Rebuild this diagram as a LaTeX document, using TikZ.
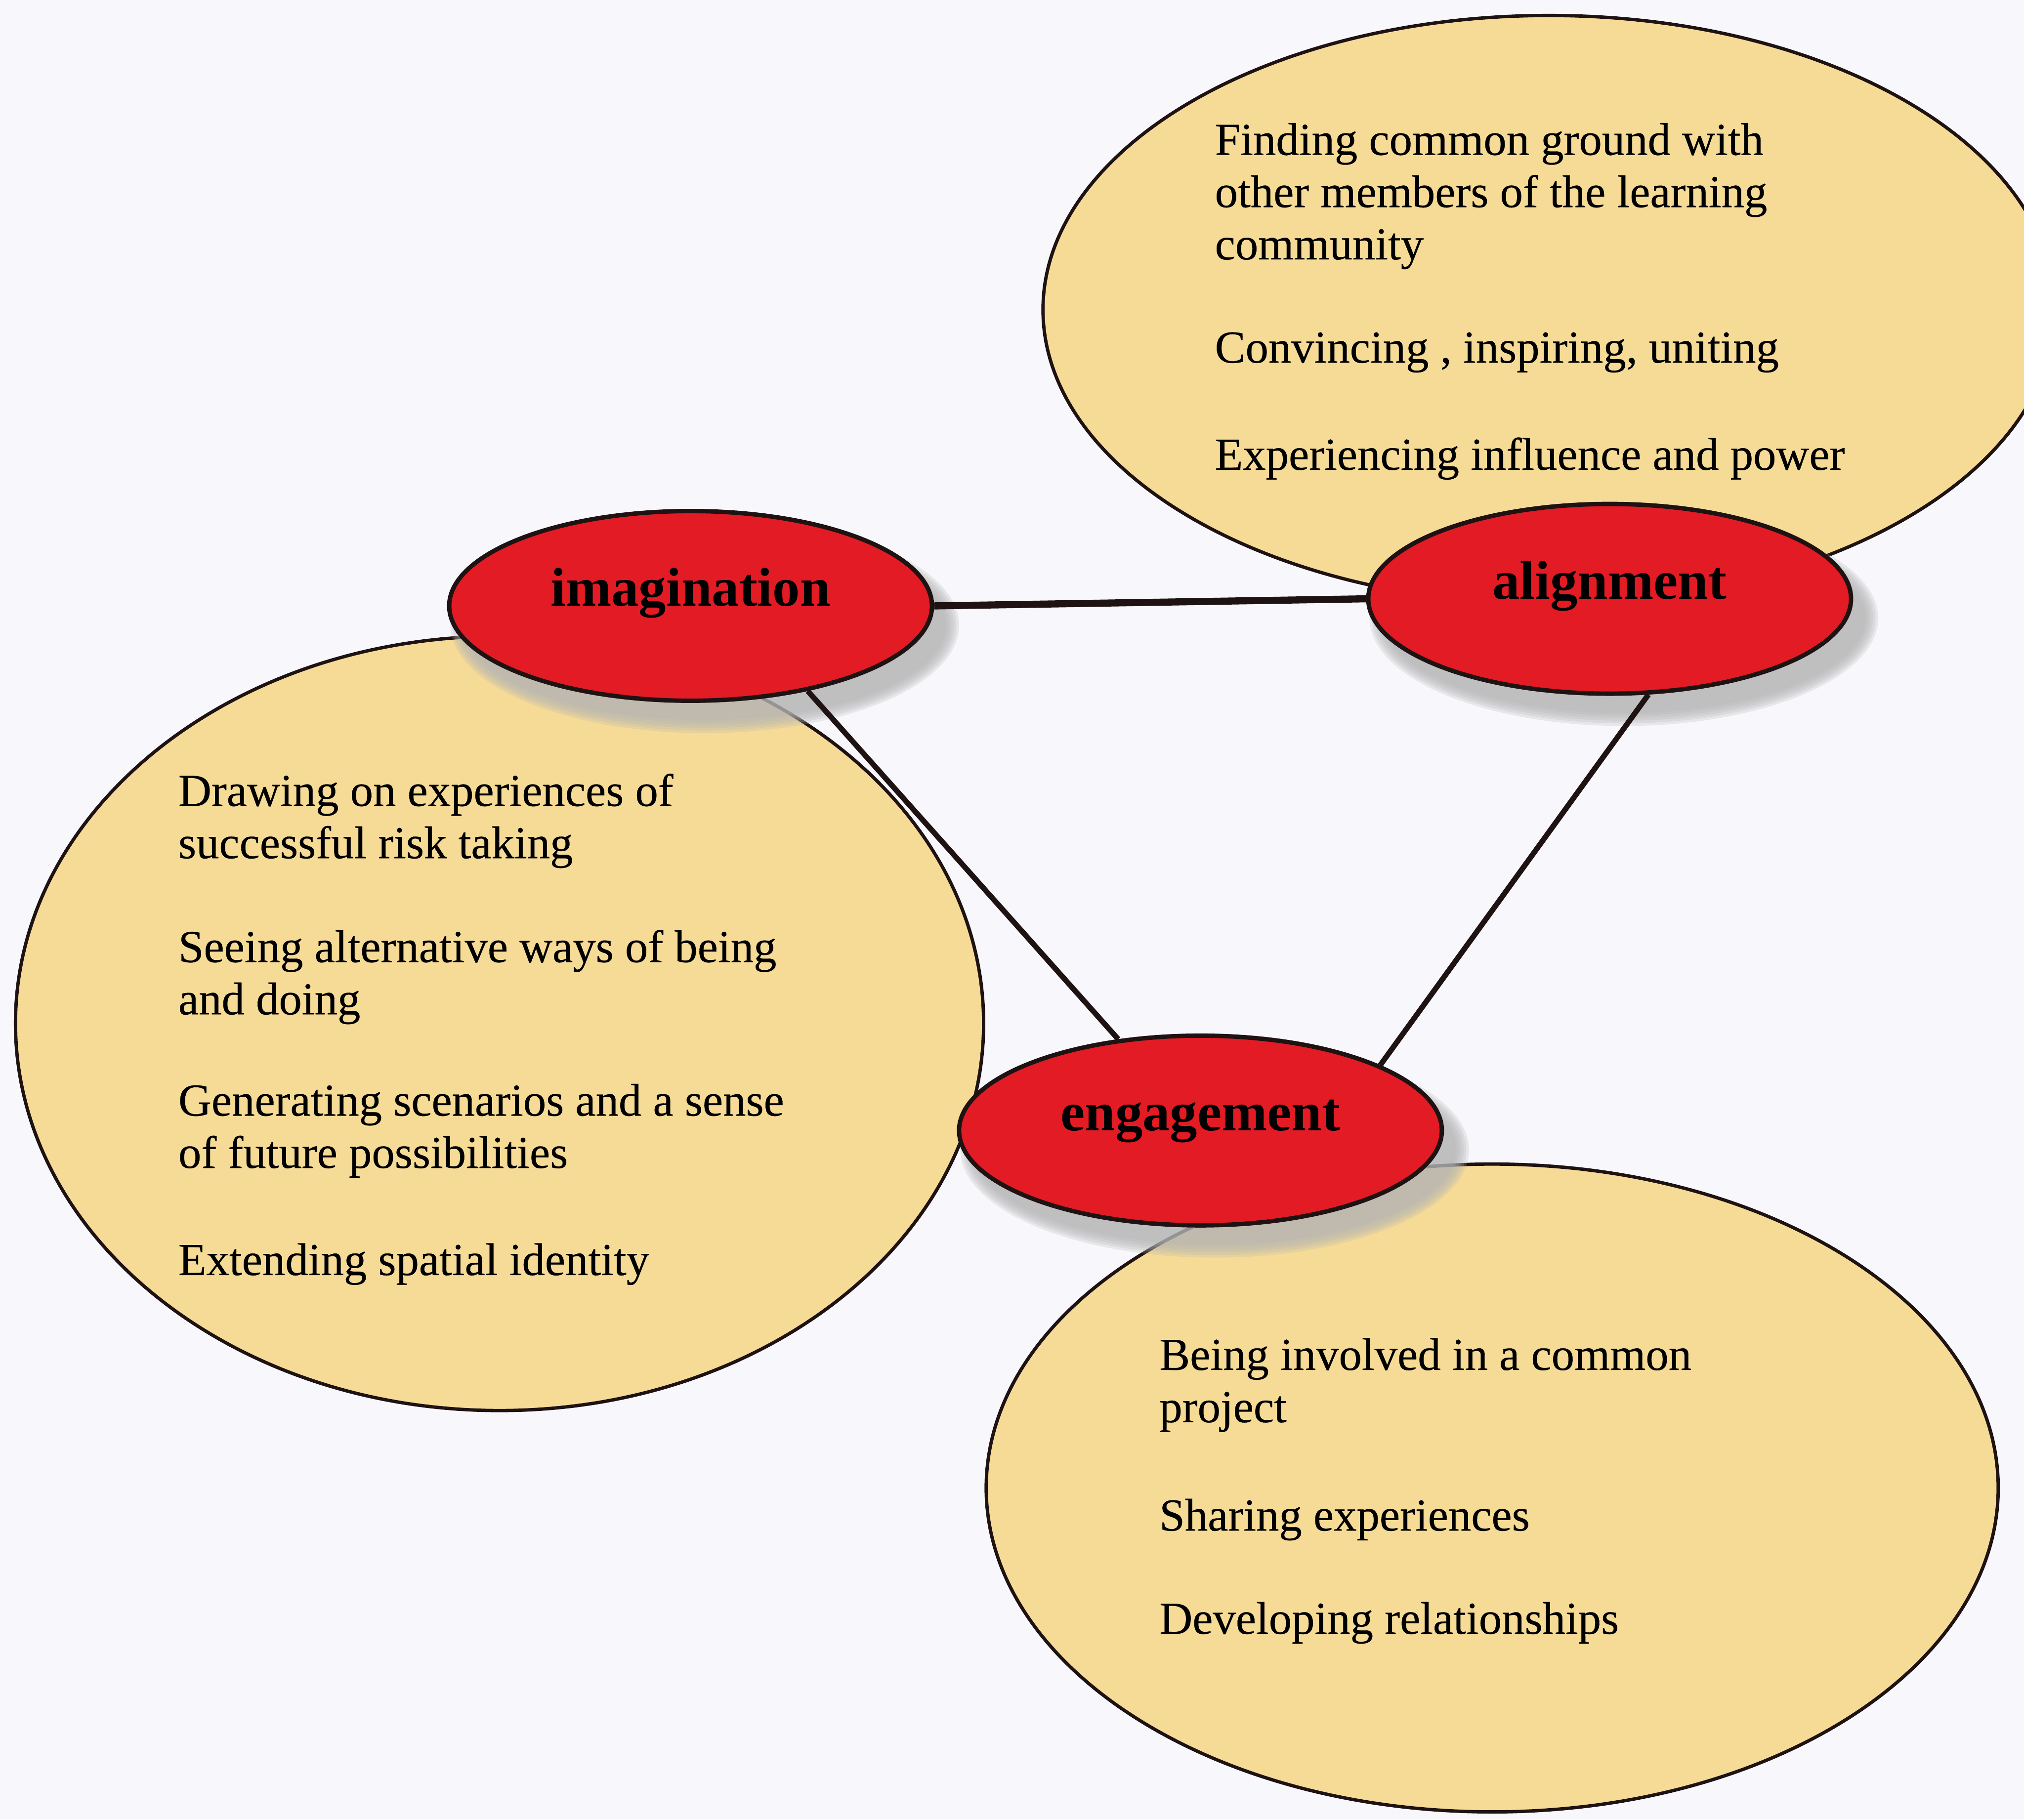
\documentclass[tikz,border=0pt]{standalone}
\usepackage{fontspec}
\setmainfont{Liberation Serif}
\newfontfamily\itemfont[FakeBold=0.35]{Liberation Serif}
\usetikzlibrary{shapes.geometric}

\definecolor{paper}{RGB}{248,248,252}
\definecolor{cream}{RGB}{245,219,150}
\definecolor{redfill}{RGB}{226,27,36}
\definecolor{outline}{RGB}{30,18,18}
\definecolor{shadowgray}{RGB}{180,180,180}

\tikzset{
  idea/.style={ellipse, draw=outline, line width=2.6pt, fill=cream, inner sep=0pt},
  bubble/.style={ellipse, draw=outline, line width=3.4pt, fill=redfill, inner sep=0pt,
    minimum width=374pt, minimum height=147pt, text height=0pt, text depth=0pt,
    font=\fontsize{42.4}{48}\selectfont\bfseries},
  % multi-line item texts are placed by the baseline of their last line
  itemtext/.style={anchor=base west, align=left, inner sep=0pt,
    font=\itemfont\fontsize{35.5}{40.5}\selectfont},
  link/.style={draw=outline, line width=4.2pt},
  mainlink/.style={draw=outline, line width=5.5pt},
  softshadow/.style={fill=shadowgray, fill opacity=0.24},
}

\begin{document}
\begin{tikzpicture}[x=1pt,y=-1pt]
  \useasboundingbox (0,0) rectangle (1568,1410);
  \clip (0,0) rectangle (1568,1410);
  \fill[paper] (0,0) rectangle (1568,1410);

  % large idea ellipses
  \node[idea, minimum width=784pt, minimum height=456pt] (alignIdea) at (1200,240) {};
  \node[idea, minimum width=750pt, minimum height=600pt] (imagIdea) at (387,793) {};
  \node[idea, minimum width=784pt, minimum height=502pt] (engIdea) at (1156,1153) {};

  % centres of the three red bubbles
  \coordinate (cImag) at (535,469.5);
  \coordinate (cAlign) at (1247,464);
  \coordinate (cEng) at (930,876);

  % soft drop shadows behind the bubbles
  \foreach \p in {cImag,cAlign,cEng}{
    \foreach \e in {10,8,6,4,2,0}{
      \fill[softshadow] ([shift={(11,15)}]\p) ellipse ({187+\e} and {73.5+\e});
    }
  }

  % item texts
  \node[itemtext] (a1) at (941,201) {Finding common ground with\\other members of the learning\\community};
  \node[itemtext] (a2) at (941,281) {Convincing , inspiring, uniting};
  \node[itemtext] (a3) at (941,364) {Experiencing influence and power};

  \node[itemtext] (i1) at (138,665) {Drawing on experiences of\\successful risk taking};
  \node[itemtext] (i2) at (138,786) {Seeing alternative ways of being\\and doing};
  \node[itemtext] (i3) at (138,905) {Generating scenarios and a sense\\of future possibilities};
  \node[itemtext] (i4) at (138,988) {Extending spatial identity};

  \node[itemtext] (e1) at (898,1102) {Being involved in a common\\project};
  \node[itemtext] (e2) at (898,1186) {Sharing experiences};
  \node[itemtext] (e3) at (898,1266) {Developing relationships};

  % red bubbles
  \node[bubble] (imagination) at (cImag) {imagination};
  \node[bubble] (alignment) at (cAlign) {alignment};
  \node[bubble] (engagement) at (cEng) {engagement};

  % connectors
  \draw[mainlink] (imagination.east) -- (alignment.west);
  \draw[link] (imagination.-36) -- (engagement.132);
  \draw[link] (alignment.-68) -- (engagement.20);
\end{tikzpicture}
\end{document}
